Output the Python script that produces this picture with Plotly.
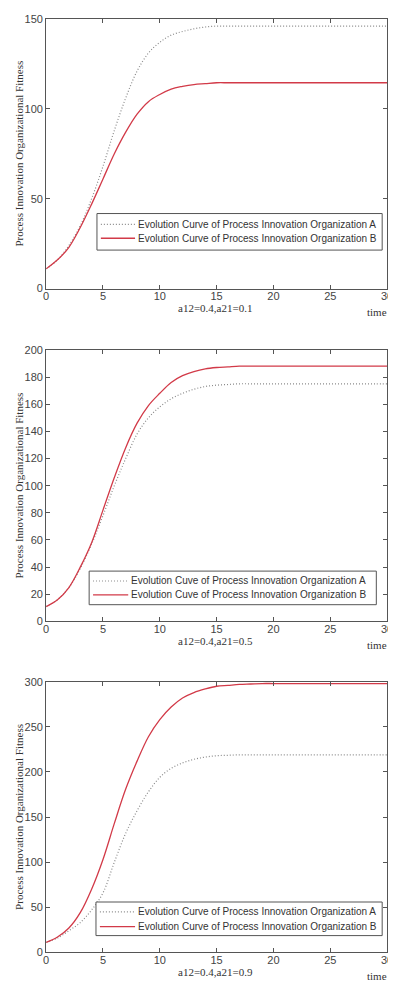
import plotly.graph_objects as go

t = [0, 1, 2, 3, 4, 5, 6, 7, 8, 9, 10, 11, 12, 13, 14, 15, 16, 17, 18, 19, 20,
     21, 22, 23, 24, 25, 26, 27, 28, 29, 30]

a1 = [11, 16, 24, 35, 50, 68, 88, 106, 121, 131, 137, 141, 143, 144.5, 145.5, 146,
      146, 146, 146, 146, 146, 146, 146, 146, 146, 146, 146, 146, 146, 146, 146]
b1 = [11, 16, 23, 34, 47, 61, 75, 87, 97, 104, 108, 111, 112.5, 113.5, 114, 114.5,
      114.5, 114.5, 114.5, 114.5, 114.5, 114.5, 114.5, 114.5, 114.5, 114.5, 114.5,
      114.5, 114.5, 114.5, 114.5]

a2 = [11, 16, 25, 39, 57, 78, 100, 120, 138, 150, 158, 164, 168, 171, 173, 174,
      174.5, 175, 175, 175, 175, 175, 175, 175, 175, 175, 175, 175, 175, 175, 175]
b2 = [11, 16, 25, 40, 58, 82, 106, 128, 146, 159, 168, 176, 181, 184, 186, 187,
      187.5, 188, 188, 188, 188, 188, 188, 188, 188, 188, 188, 188, 188, 188, 188]

a3 = [11, 16, 24, 33, 47, 66, 100, 132, 157, 178, 194, 204, 210, 214, 216.5, 218,
      218.5, 219, 219, 219, 219, 219, 219, 219, 219, 219, 219, 219, 219, 219, 219]
b3 = [11, 17, 27, 44, 70, 103, 143, 181, 212, 239, 258, 272, 282, 288, 292, 295,
      296, 297, 297.5, 298, 298, 298, 298, 298, 298, 298, 298, 298, 298, 298, 298]

panel_labels = ["a12=0.4,a21=0.1", "a12=0.4,a21=0.5", "a12=0.4,a21=0.9"]
names_a = ["Evolution Curve of Process Innovation Organization A",
           "Evolution Cuve of Process Innovation Organization A",
           "Evolution Curve of Process Innovation Organization A"]
names_b = ["Evolution Curve of Process Innovation Organization B",
           "Evolution Cuve of Process Innovation Organization B",
           "Evolution Curve of Process Innovation Organization B"]
y_ranges = [[0, 150], [0, 200], [0, 300]]
y_dticks = [50, 20, 50]
y_title = "Process Innovation Organizational Fitness"
x_title = "time"

# the page body has an 8px margin; the figure is sized to end at the window edge
OFF = 8
W, H = 396 - OFF, 990 - OFF


def px(x):
    return (x - OFF) / W


def py(y):
    return 1 - (y - OFF) / H


# screen-pixel geometry of each panel (left, right, top, bottom)
panels = [(44, 393, 13, 286), (44, 393, 348, 623), (44, 393, 684, 958)]
# legend boxes (left, right, top, bottom), sample line span, row centres
legend_boxes = [(96, 388, 210, 247), (88, 382, 572, 606), (95, 388, 907, 941)]
legend_samples = [(100, 135), (92, 128), (99, 135)]
legend_rows = [(221, 235), (582, 596), (917, 932)]

red = "#d23a48"
gray = "#8a8a8a"
frame = "#555555"
dot = "1px,2px"

fig = go.Figure()
series = [(a1, b1), (a2, b2), (a3, b3)]
for i, (sa, sb) in enumerate(series):
    k = "" if i == 0 else str(i + 1)
    fig.add_trace(go.Scatter(x=t, y=sa, mode="lines", name=names_a[i],
                             line=dict(color=gray, width=1.2, dash=dot, shape="spline"),
                             xaxis="x" + k, yaxis="y" + k, showlegend=False))
    fig.add_trace(go.Scatter(x=t, y=sb, mode="lines", name=names_b[i],
                             line=dict(color=red, width=1.3, shape="spline"),
                             xaxis="x" + k, yaxis="y" + k, showlegend=False))

axis_font = dict(family="Liberation Sans, Arial", size=11, color="#444")
serif = dict(family="Liberation Serif, Times New Roman", size=11, color="#333")
leg_font = dict(family="Liberation Sans, Arial", size=10, color="#333")
layout = dict(width=W, height=H, margin=dict(l=0, r=0, t=0, b=0),
              paper_bgcolor="white", plot_bgcolor="white", showlegend=False)
annotations = []
shapes = []
for i, (l, r, tp, bt) in enumerate(panels):
    k = "" if i == 0 else str(i + 1)
    dom_x = [px(l), px(r)]
    dom_y = [py(bt), py(tp)]
    layout["xaxis" + k] = dict(domain=dom_x, anchor="y" + k, range=[0, 30], dtick=5,
                               ticks="inside", ticklen=4, showline=True, linecolor=frame,
                               linewidth=1, mirror="allticks", showgrid=False,
                               zeroline=False, tickfont=axis_font, tickcolor=frame,
                               ticklabelstandoff=-3, ticklabeloverflow="allow")
    layout["yaxis" + k] = dict(domain=dom_y, anchor="x" + k, range=y_ranges[i],
                               dtick=y_dticks[i], ticks="inside", ticklen=4, showline=True,
                               linecolor=frame, linewidth=1, mirror="allticks",
                               showgrid=False, zeroline=False, tickfont=axis_font,
                               tickcolor=frame, ticklabeloverflow="allow")
    # legend (box, samples and labels)
    bl, br, btop, bbot = legend_boxes[i]
    shapes.append(dict(type="rect", xref="paper", yref="paper",
                       x0=px(bl), x1=px(br), y0=py(bbot), y1=py(btop),
                       line=dict(color=frame, width=1), fillcolor="white", layer="above"))
    s0, s1 = legend_samples[i]
    ra, rb = legend_rows[i]
    shapes.append(dict(type="line", xref="paper", yref="paper",
                       x0=px(s0), x1=px(s1), y0=py(ra), y1=py(ra),
                       line=dict(color=gray, width=1.2, dash=dot), layer="above"))
    shapes.append(dict(type="line", xref="paper", yref="paper",
                       x0=px(s0), x1=px(s1), y0=py(rb), y1=py(rb),
                       line=dict(color=red, width=1.3), layer="above"))
    annotations.append(dict(text=names_a[i], xref="paper", yref="paper",
                            x=px(s1 + 1), y=py(ra), showarrow=False,
                            xanchor="left", yanchor="middle", font=leg_font))
    annotations.append(dict(text=names_b[i], xref="paper", yref="paper",
                            x=px(s1 + 1), y=py(rb), showarrow=False,
                            xanchor="left", yanchor="middle", font=leg_font))
    # axis labels
    annotations.append(dict(text=panel_labels[i], xref="paper", yref="paper",
                            x=px(217), y=py(bt + 20), showarrow=False,
                            xanchor="center", yanchor="middle", font=serif))
    annotations.append(dict(text=x_title, xref="paper", yref="paper",
                            x=px(383), y=py(bt + 24), showarrow=False,
                            xanchor="center", yanchor="middle", font=serif))
    annotations.append(dict(text=y_title, xref="paper", yref="paper",
                            x=px(16), y=py((tp + bt) / 2), showarrow=False,
                            textangle=-90, xanchor="center", yanchor="middle", font=serif))
layout["annotations"] = annotations
layout["shapes"] = shapes
fig.update_layout(**layout)
fig.write_html("out.html")
